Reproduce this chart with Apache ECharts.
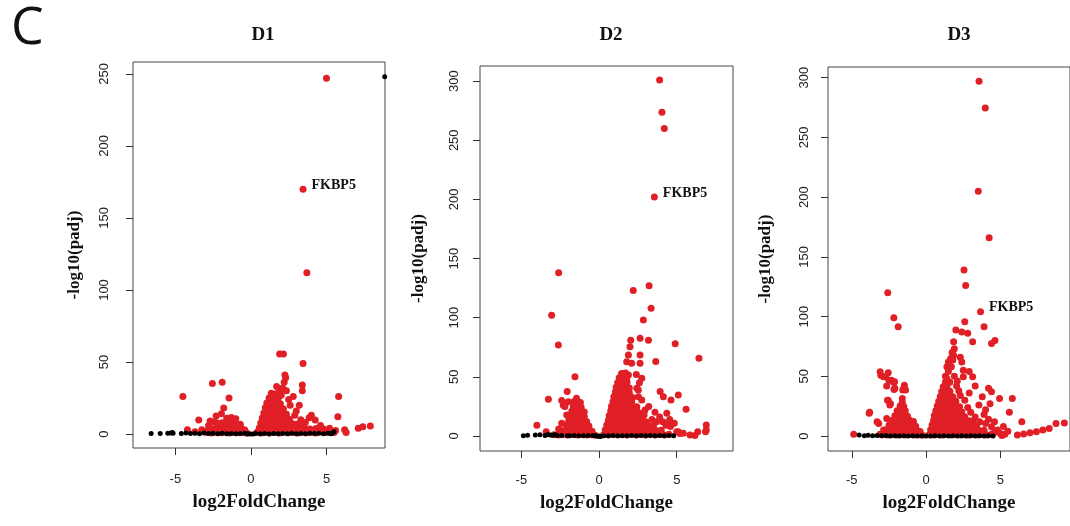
<!DOCTYPE html>
<html>
<head>
<meta charset="utf-8">
<script src="https://cdn.jsdelivr.net/npm/echarts@6/dist/echarts.min.js"></script>
<style>
html,body{margin:0;padding:0;background:#fff;}
#chart{width:1070px;height:526px;}
</style>
</head>
<body>
<div id="chart"></div>
<script>
// ---------- tick labels ----------
const xTicks = [-5, 0, 5];
const yTicksD1 = [0, 50, 100, 150, 200, 250];
const yTicksD23 = [0, 50, 100, 150, 200, 250, 300];
const panelTitles = ['D1', 'D2', 'D3'];
const geneName = 'FKBP5';

// ---------- D1 ----------
const d1Red = [
[0.4,1.2],[0.7,0.8],[1.0,1.4],[1.3,0.9],[1.6,1.3],[1.9,0.8],[2.2,1.5],[2.5,0.9],[2.8,1.2],[3.1,0.8],[3.4,1.4],[3.7,0.9],[4.0,1.3],[4.3,0.8],[4.6,1.6],[4.9,1.0],[5.2,1.4],[5.5,1.1],
[0.55,4.2],[0.85,3.8],[1.15,4.5],[1.45,3.9],[1.75,4.3],[2.05,3.7],[2.35,4.4],[2.65,3.9],[2.95,4.1],[3.25,3.6],[3.55,4.2],[3.9,3.5],[4.3,3.9],[4.6,3.2],
[0.65,7.6],[0.95,7.2],[1.25,7.9],[1.55,7.4],[1.85,7.7],[2.15,7.3],[2.45,7.8],[2.75,7.1],[3.05,6.8],[3.35,6.5],
[0.75,11.2],[1.05,10.8],[1.35,11.4],[1.65,10.9],[1.95,11.3],[2.25,10.6],[2.55,10.2],
[0.85,14.6],[1.15,14.2],[1.45,14.8],[1.75,14.3],[2.05,14.5],[2.35,13.8],
[0.95,18.2],[1.25,17.8],[1.55,18.4],[1.85,17.9],[2.15,17.5],
[1.05,21.6],[1.35,21.2],[1.65,21.8],[1.95,21.1],
[1.2,25.1],[1.5,25.4],[1.8,24.6],
[1.35,28.3],[1.65,27.9],
[5.0,247],[3.7,112],[1.9,55.5],[2.15,55.5],[3.45,49],[2.25,41],[2.3,39],[2.2,36],[3.4,34],[3.4,30],[3.2,20],[2.8,26],[1.9,30],[2.35,30],[5.8,26],[5.75,12],[4.0,13],[3.85,11.3],[4.25,9.7],[7.1,4],[7.4,5],[7.9,5.5],[6.2,3],[6.3,1],[2.6,20],[2.5,24],[2.0,27],[1.7,33],[2.1,32],[3.0,16],[3.6,8],[4.6,6],[5.2,4],[5.6,2.5],[4.8,3.5],[2.9,13],[3.3,10],
[-2.9,1.1],[-2.6,0.8],[-2.3,1.3],[-2.0,0.9],[-1.7,1.2],[-1.4,0.8],[-1.1,1.3],[-0.8,0.9],[-0.5,1.1],[-0.25,0.6],
[-2.7,4.1],[-2.4,3.7],[-2.1,4.3],[-1.8,3.8],[-1.5,4.4],[-1.2,3.9],[-0.9,4.2],[-0.6,3.6],[-0.4,2.8],
[-2.2,7.4],[-1.9,7.8],[-1.6,7.3],[-1.3,7.9],[-1.0,7.2],[-0.7,6.8],
[-1.6,11.0],[-1.3,11.5],[-1.0,10.6],
[-2.3,12.5],[-2.7,9],[-2.4,8.3],[-1.95,14],[-1.8,18],[-1.45,25],[-1.9,36],[-2.55,35],[-4.5,26],[-3.45,9.7],[-4.2,3],[-3.25,3],[-3.0,2],[-3.7,1.5],[-2.8,6]
];
const d1Black = [
[-6.6,0.3],[-6.0,0.3],[-5.5,0.6],[-5.3,0.8],[-5.15,0.5],[-5.2,1.0],[-4.6,0.4],[-4.3,0.8],[-4.0,0.3],[-3.7,0.6],[-3.4,0.2],[-3.1,0.8],[-2.8,0.3],[-2.5,0.5],[-2.2,0.2],[-1.9,0.6],[-1.6,0.2],[-1.3,0.4],[-1.0,0.2],[-0.7,0.3],[-0.4,0.5],[-0.2,0.2],[0,0],[0.15,0.1],[0.3,0.4],[0.6,0.2],[0.9,0.3],[1.2,0.1],[1.5,0.3],[1.8,0.2],[2.1,0.4],[2.4,0.2],[2.7,0.5],[3.0,0.2],[3.3,0.4],[3.6,0.2],[3.9,0.5],[4.2,0.3],[4.5,0.6],[4.8,0.2],[5.1,0.5],[5.4,0.8],[5.5,1.5],[5.3,0.2],[8.85,248]
];
const d1Gene = [[3.45,170]];

// ---------- D2 ----------
const d2Red = [
[0.3,1.2],[0.6,0.8],[0.9,1.4],[1.2,0.9],[1.5,1.3],[1.8,0.8],[2.1,1.5],[2.4,0.9],[2.7,1.2],[3.0,0.8],[3.3,1.4],[3.6,0.9],[3.9,1.3],[4.2,0.8],[4.5,1.5],
[0.4,5.2],[0.7,4.8],[1.0,5.5],[1.3,4.9],[1.6,5.3],[1.9,4.7],[2.2,5.4],[2.5,4.9],[2.8,5.1],[3.1,4.6],[3.4,5.2],[3.7,4.5],[4.0,4.8],
[0.5,9.2],[0.8,8.8],[1.1,9.5],[1.4,8.9],[1.7,9.3],[2.0,8.7],[2.3,9.4],[2.6,8.9],[2.9,9.1],[3.2,8.6],[3.5,8.2],
[0.6,13.2],[0.9,12.8],[1.2,13.5],[1.5,12.9],[1.8,13.3],[2.1,12.7],[2.4,13.4],[2.7,12.6],[3.0,12.1],
[0.65,17.2],[0.95,16.8],[1.25,17.5],[1.55,16.9],[1.85,17.3],[2.15,16.7],[2.45,17.1],[2.75,16.2],
[0.75,21.2],[1.05,20.8],[1.35,21.5],[1.65,20.9],[1.95,21.3],[2.25,20.7],[2.5,20.2],
[0.8,25.2],[1.1,24.8],[1.4,25.5],[1.7,24.9],[2.0,25.3],[2.3,24.6],
[0.9,29.2],[1.2,28.8],[1.5,29.5],[1.8,28.9],[2.1,29.1],
[0.95,33.2],[1.25,32.8],[1.55,33.5],[1.85,32.9],[2.15,32.6],
[1.05,37.2],[1.35,36.8],[1.65,37.5],[1.95,36.6],
[1.1,41.2],[1.4,40.8],[1.7,41.5],[1.95,40.6],
[1.2,45.2],[1.5,44.8],[1.8,45.3],
[1.3,49.2],[1.6,48.8],
[1.45,52.8],[1.7,53.2],
[-2.9,1.1],[-2.6,0.8],[-2.3,1.3],[-2.0,0.9],[-1.7,1.2],[-1.4,0.8],[-1.1,1.3],[-0.8,0.9],[-0.5,1.1],[-0.25,0.6],
[-2.5,5.1],[-2.2,4.7],[-1.9,5.3],[-1.6,4.8],[-1.3,5.4],[-1.0,4.9],[-0.7,5.2],[-0.45,4.1],
[-2.1,9.1],[-1.8,8.7],[-1.5,9.3],[-1.2,8.8],[-0.9,9.2],[-0.65,8.4],
[-1.95,13.1],[-1.65,12.7],[-1.35,13.3],[-1.05,12.8],[-0.8,12.2],
[-1.85,17.1],[-1.55,16.7],[-1.25,17.3],[-0.95,16.5],
[-1.75,21.1],[-1.45,20.7],[-1.15,21.3],[-0.95,20.2],
[-1.65,25.1],[-1.4,24.7],[-1.15,24.2],
[-1.6,29.1],[-1.35,28.7],[-1.2,28.2],
[-1.45,32],
[3.9,301],[4.05,273.6],[4.2,260],[3.22,127],[2.2,123],[3.35,108],[2.85,98],[2.64,82.6],[3.18,81],[2.04,81],[4.9,78],[6.43,65.7],[1.99,75.5],[1.89,68.5],[2.64,68.5],[1.78,62.8],[2.1,61.5],[2.64,61.5],[3.65,63],[2.75,48.8],[2.43,40.3],[2.53,38.9],[1.89,51.6],[1.78,47.3],[3.93,37.5],[4.14,33.2],[4.63,30.4],[5.1,34.7],[5.6,22.5],[4.36,19.2],[3.9,16],[4.1,12],[4.3,9],[4.55,14],[4.6,8],[4.45,11.5],[2.43,24.8],[2.75,30.4],[2.64,19.2],[2.96,22],[2.53,33.2],[5.1,3.6],[5.42,2.3],[5.85,0.8],[6.17,0.5],[6.9,9.3],[6.9,5],[6.85,3.6],[6.35,3.6],[2.9,17.8],[3.4,14],[3.7,12],[4.84,10.7],[5.0,3.6],[5.2,2.2],[3.2,25],[3.6,20],[2.4,52],[2.6,45],
[-2.6,138],[-3.05,102],[-2.62,77],[-1.55,50],[-2.05,37.5],[-1.98,29],[-2.4,30],[-3.26,31],[-4.0,9],[-3.4,3.6],[-2.08,17.7],[-2.4,10.7],[-2.2,25],[-2.6,6],[-2.3,26]
];
const d2Black = [
[-4.87,0.2],[-4.6,0.6],[-4.1,0.8],[-3.8,1.0],[-3.47,0.5],[-3.3,1.2],[-3.15,0.8],[-3.0,0.6],[-2.83,1.3],[-2.7,0.4],[-2.4,0.3],[-2.04,0.2],[-1.9,0.1],[-1.6,0.3],[-1.3,0.1],[-1.0,0.2],[-0.7,0.3],[-0.4,0.5],[-0.2,0.2],[0,0],[0.1,-0.5],[-0.1,-0.3],[0.3,0.2],[0.6,0.1],[0.9,0.3],[1.2,0.1],[1.5,0.2],[1.8,0.1],[2.1,0.3],[2.4,0.1],[2.7,0.3],[3.0,0.1],[3.3,0.4],[3.6,0.2],[3.9,0.3],[4.2,0.1],[4.5,0.4],[4.8,0.2]
];
const d2Gene = [[3.56,202]];

// ---------- D3 ----------
const d3Red = [
[0.2,1.2],[0.5,0.8],[0.8,1.4],[1.1,0.9],[1.4,1.3],[1.7,0.8],[2.0,1.5],[2.3,0.9],[2.6,1.2],[2.9,0.8],[3.2,1.4],[3.5,0.9],[3.8,1.3],[4.1,0.8],[4.4,1.5],
[0.3,5.2],[0.6,4.8],[0.9,5.5],[1.2,4.9],[1.5,5.3],[1.8,4.7],[2.1,5.4],[2.4,4.9],[2.7,5.1],[3.0,4.6],[3.3,5.2],[3.6,4.5],[3.9,4.8],
[0.4,9.2],[0.7,8.8],[1.0,9.5],[1.3,8.9],[1.6,9.3],[1.9,8.7],[2.2,9.4],[2.5,8.9],[2.8,9.1],[3.1,8.6],[3.4,8.2],
[0.5,13.2],[0.8,12.8],[1.1,13.5],[1.4,12.9],[1.7,13.3],[2.0,12.7],[2.3,13.4],[2.6,12.6],[2.9,12.9],[3.15,12.1],
[0.55,17.2],[0.85,16.8],[1.15,17.5],[1.45,16.9],[1.75,17.3],[2.05,16.7],[2.35,17.1],[2.6,16.2],
[0.65,21.2],[0.95,20.8],[1.25,21.5],[1.55,20.9],[1.85,21.3],[2.15,20.7],[2.4,20.2],
[0.75,25.2],[1.05,24.8],[1.35,25.5],[1.65,24.9],[1.95,25.3],[2.25,24.6],
[0.85,29.2],[1.15,28.8],[1.45,29.5],[1.75,28.9],[2.0,29.1],
[0.95,33.2],[1.25,32.8],[1.55,33.5],[1.8,32.9],
[1.05,37.2],[1.35,36.8],[1.6,37.5],
[1.15,41.2],[1.4,40.8],
[1.3,45.2],
[-2.9,1.1],[-2.6,0.8],[-2.3,1.3],[-2.0,0.9],[-1.7,1.2],[-1.4,0.8],[-1.1,1.3],[-0.8,0.9],[-0.5,1.1],[-0.25,0.6],
[-2.7,5.1],[-2.4,4.7],[-2.1,5.3],[-1.8,4.8],[-1.5,5.4],[-1.2,4.9],[-0.9,5.2],[-0.6,4.6],[-0.4,3.9],
[-2.5,9.1],[-2.2,8.7],[-1.9,9.3],[-1.6,8.8],[-1.3,9.2],[-1.0,8.7],[-0.7,8.2],
[-2.3,13.1],[-2.0,12.7],[-1.7,13.3],[-1.4,12.8],[-1.1,13.2],[-0.85,12.1],
[-2.1,17.1],[-1.8,16.7],[-1.5,17.3],[-1.25,16.6],
[-1.95,21.1],[-1.65,20.7],[-1.4,21.2],
[-1.75,25.1],[-1.5,24.7],
[-1.6,28],
[3.56,297],[3.98,274.6],[3.51,205],[4.24,166],[2.55,139],[2.66,126],[3.9,91.4],[2.6,95.6],[2.0,88.7],[2.4,87.2],[2.8,86],[3.13,79],[4.63,80],[4.4,77.5],[1.85,79],[1.9,73],[1.85,67.7],[1.8,63.6],[2.3,66],[2.4,62],[1.5,62],[1.4,58],[2.5,55],[2.9,54],[3.13,49.6],[2.5,49.6],[4.2,40],[4.4,37],[3.78,33],[4.94,31.5],[5.8,31.5],[4.3,27],[4.0,22],[5.6,20],[6.44,12],[4.0,10.6],[4.4,7.8],[4.8,5],[5.0,2.2],[5.1,0.5],[6.14,0.8],[6.56,1.7],[6.99,2.8],[7.42,3.6],[7.85,5],[8.28,6.4],[8.74,10.6],[9.3,11],
[1.3,50],[1.5,54],[1.7,58],[1.6,45],[1.9,50],[2.1,46],[1.75,70],[2.05,42],[2.2,38],[1.4,48],[1.65,65],[2.3,34],[2.6,30],[2.8,24],[3.0,20],[3.3,16],[3.6,12],[2.9,36],[3.3,42],[3.55,26],[3.9,18],[4.2,14],[4.6,12],[5.2,8],[5.5,4],[4.6,3],[5.3,1.5],
[-2.58,120],[-2.17,99],[-1.88,91.5],
[-3.05,51],[-2.73,49.6],[-2.5,46.8],[-2.2,45],[-2.1,40],[-1.46,42.6],[-1.57,38.5],[-3.8,20],[-3.3,12],[-2.6,30],[-2.4,27],[-3.09,53.8],[-2.86,49.6],[-2.55,53],[-2.33,46.8],[-2.12,45.4],[-2.65,41.8],[-2.16,39],[-1.49,40.7],[-1.38,38.5],[-1.6,31.5],[-2.55,30],[-2.44,26],[-3.83,19],[-3.19,10.6],[-2.65,14.8],[-2.86,5],[-4.87,1.5],[-3.1,1.5]
];
const d3Black = [
[-4.5,0.8],[-4.15,0.3],[-3.9,0.6],[-3.6,0.2],[-3.3,0.5],[-3.0,0.2],[-2.7,0.4],[-2.4,0.1],[-2.1,0.3],[-1.8,0.1],[-1.5,0.2],[-1.2,0.1],[-0.9,0.2],[-0.6,0.1],[-0.3,0.3],[0,0],[0.3,0.1],[0.6,0.3],[0.9,0.1],[1.2,0.2],[1.5,0.1],[1.8,0.3],[2.1,0.1],[2.4,0.2],[2.7,0.1],[3.0,0.3],[3.3,0.1],[3.6,0.2],[3.9,0.1],[4.2,0.3],[4.5,0.1]
];
const d3Gene = [[3.66,104]];

// ---------- layout / style ----------
const panels = [
  {grid:{left:133, top:62, width:252, height:386}, xMin:-7.8, xMax:8.87, yMin:-9.7, yMax:258.3, yTicks:yTicksD1,
   red:d1Red, black:d1Black, gene:d1Gene, titleX:258, yLabMargin:22, xLabMargin:25, yNameGap:50, xNameGap:45},
  {grid:{left:480, top:66, width:253, height:385}, xMin:-7.66, xMax:8.62, yMin:-12.7, yMax:312.8, yTicks:yTicksD23,
   red:d2Red, black:d2Black, gene:d2Gene, titleX:606, yLabMargin:19, xLabMargin:23, yNameGap:53, xNameGap:43},
  {grid:{left:828, top:67, width:254, height:384}, xMin:-6.6, xMax:9.68, yMin:-12.5, yMax:308.9, yTicks:yTicksD23,
   red:d3Red, black:d3Black, gene:d3Gene, titleX:954, yLabMargin:17, xLabMargin:23, yNameGap:54, xNameGap:43}
];

const RED = '#e01f26';
const serif = 'Liberation Serif';
const sans = 'Liberation Sans';

const option = {
  animation:false,
  backgroundColor:'#ffffff',
  title:[{text:'C', left:6, top:-2, textStyle:{fontFamily:'Open Sans', fontSize:52, fontWeight:'normal', color:'#111'}}]
    .concat(panels.map((p,i)=>({text:panelTitles[i], left:p.titleX, top:21, textAlign:'center',
      textStyle:{fontFamily:serif, fontWeight:'bold', fontSize:19, color:'#111'}}))),
  grid: panels.map(p=>Object.assign({show:true, borderColor:'#444', borderWidth:1, backgroundColor:'#fff', containLabel:false}, p.grid)),
  xAxis: panels.map((p,i)=>({
    type:'value', gridIndex:i, min:p.xMin, max:p.xMax,
    axisLine:{show:false, onZero:false},
    axisTick:{show:true, length:7, customValues:xTicks, lineStyle:{color:'#333'}},
    axisLabel:{customValues:xTicks, margin:p.xLabMargin, color:'#222', fontFamily:sans, fontSize:13},
    splitLine:{show:false},
    name:'log2FoldChange', nameLocation:'middle', nameGap:p.xNameGap,
    nameTextStyle:{fontFamily:serif, fontWeight:'bold', fontSize:19, color:'#111'}
  })),
  yAxis: panels.map((p,i)=>({
    type:'value', gridIndex:i, min:p.yMin, max:p.yMax,
    axisLine:{show:false, onZero:false},
    axisTick:{show:true, length:7, customValues:p.yTicks, lineStyle:{color:'#333'}},
    axisLabel:{customValues:p.yTicks, rotate:90, margin:p.yLabMargin, color:'#222', fontFamily:sans, fontSize:13},
    splitLine:{show:false},
    name:'-log10(padj)', nameLocation:'middle', nameGap:p.yNameGap,
    nameTextStyle:{fontFamily:serif, fontWeight:'bold', fontSize:17, color:'#111'}
  })),
  series: []
};

panels.forEach((p,i)=>{
  option.series.push({type:'scatter', xAxisIndex:i, yAxisIndex:i, data:p.red, symbol:'circle', symbolSize:7,
    itemStyle:{color:RED, opacity:1}, z:2, silent:true});
  option.series.push({type:'scatter', xAxisIndex:i, yAxisIndex:i, data:p.black, symbol:'circle', symbolSize:5,
    itemStyle:{color:'#000', opacity:1}, z:3, silent:true});
  option.series.push({type:'scatter', xAxisIndex:i, yAxisIndex:i, data:p.gene, symbol:'circle', symbolSize:7,
    itemStyle:{color:RED, opacity:1}, z:4, silent:true,
    label:{show:true, position:'right', distance:5, offset:[0,-4], formatter:geneName,
      fontFamily:serif, fontWeight:'bold', fontSize:14, color:'#111'}});
});

const chart = echarts.init(document.getElementById('chart'), null, {renderer:'canvas'});
chart.setOption(option);
</script>
</body>
</html>
